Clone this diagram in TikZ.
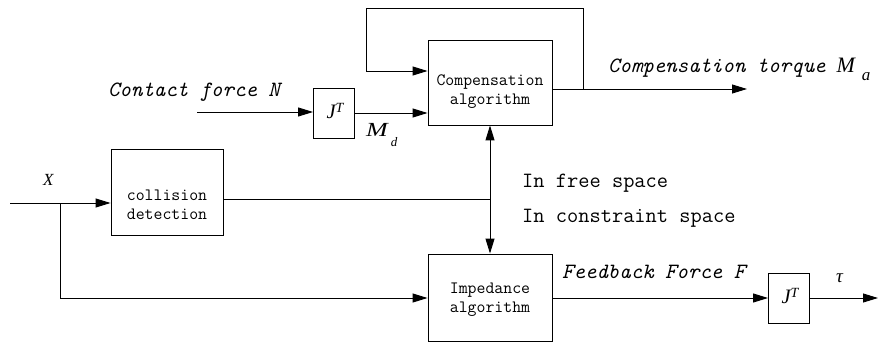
\documentclass[tikz,border=0pt]{standalone}
\usepackage{fontspec}
\usetikzlibrary{arrows.meta,calc}

% serif italic for the symbols J^T, M_d, M_a, X and tau
\newfontfamily\symfont{Liberation Serif}
\newcommand\symsz[1]{\fontsize{#1}{#1}\selectfont}
\newcommand\JT{{\symfont\itshape\symsz{20.5}J\raisebox{6.5pt}{\symsz{14}T}}}

\tikzset{
  blk/.style={draw, line width=0.9pt, inner sep=0pt},
  btxt/.style={inner sep=0pt, align=center,
               font=\fontsize{17.3}{19}\selectfont\ttfamily},
  jt/.style={draw, line width=0.9pt, minimum width=41pt, minimum height=50pt,
             inner sep=0pt},
  wire/.style={line width=0.9pt},
  arr/.style={wire, -{Triangle[length=15pt,width=9pt]}},
  lbl/.style={inner sep=0pt, anchor=base west,
              font=\fontsize{21.8}{22}\selectfont\ttfamily\itshape},
  txt/.style={inner sep=0pt, anchor=base west,
              font=\fontsize{21.8}{22}\selectfont\ttfamily},
  sym/.style={inner sep=0pt, font=\symfont\itshape}
}

\begin{document}
\begin{tikzpicture}[x=1pt, y=-1pt]
  \useasboundingbox (0,0) rectangle (878,342);

  % blocks
  \node[blk, minimum width=124pt, minimum height=85pt] (comp) at (490,82.5) {};
  \node[blk, minimum width=112pt, minimum height=86pt] (coll) at (167,192) {};
  \node[blk, minimum width=124pt, minimum height=87pt] (imp)  at (490,297.5) {};
  \node[jt] (jt1) at (334,113) {};
  \node[jt] (jt2) at (789,298) {};

  % block texts
  \node[btxt] (tcomp) at (490,91.5) {Compensation\\algorithm};
  \node[btxt] (tcoll) at (167,205) {collision\\detection};
  \node[btxt] (timp)  at (490,299.5) {Impedance\\algorithm};
  \node[inner sep=0pt] (tjt1) at (335,111) {\JT};
  \node[inner sep=0pt] (tjt2) at (790,296) {\JT};

  % free ends and junctions
  \coordinate (fbtap) at (583,89);
  \coordinate (fbtr)  at (583,8);
  \coordinate (fbtl)  at (366,8);
  \coordinate (fbbl)  at (366,71);
  \coordinate (maout) at (747,89);
  \coordinate (nin)   at (197,112);
  \coordinate (xin)   at (10,203);
  \coordinate (xtap)  at (60,203);
  \coordinate (xlow)  at (60,298);
  \coordinate (sw)    at (490,199);
  \coordinate (tauout) at (878,298);

  % compensation loop and output
  \draw[wire] (comp.east |- fbtap) -- (fbtap);
  \draw[arr] (fbtap) -- (fbtr) -- (fbtl) -- (fbbl) -- (fbbl -| comp.west);
  \draw[arr] (fbtap) -- (maout);

  % contact force path
  \draw[arr] (nin) -- (jt1.west |- nin);
  \draw[arr] (jt1.east) -- (jt1.east -| comp.west);

  % input X
  \draw[arr] (xin) -- (xin -| coll.west);
  \draw[arr] (xtap) -- (xlow) -- (xlow -| imp.west);

  % switching between free and constraint space
  \draw[wire] (coll.east |- sw) -- (sw);
  \draw[arr] (sw) -- (comp.south);
  \draw[arr] (sw) -- (imp.north);

  % impedance output
  \draw[arr] (imp.east |- jt2.west) -- (jt2.west);
  \draw[arr] (jt2.east) -- (tauout);

  % labels
  \node[lbl] (lcf) at (108,97) {Contact force N};
  \node[sym, anchor=base west] (lmd) at (366,136)
    {\symsz{20}\scalebox{1.3}[1]{M}\hspace{3pt}\raisebox{-10pt}{\symsz{13}d}};
  \node[lbl] (lct) at (608,73)
    {Compensation torque\hspace{11pt}{\symfont\itshape\symsz{22}M\hspace{7pt}\raisebox{-8pt}{\symsz{17}a}}};
  \node[sym, anchor=base west, font=\symfont\itshape\symsz{17}] (lx) at (43,185) {X};
  \node[txt] (lfree) at (522,187) {In free space};
  \node[txt] (lcons) at (522,222) {In constraint space};
  \node[lbl] (lfb) at (562,278) {Feedback Force F};
  \node[sym, anchor=base west, font=\symfont\itshape\symsz{19}] (ltau) at (836,282) {τ};
\end{tikzpicture}
\end{document}
